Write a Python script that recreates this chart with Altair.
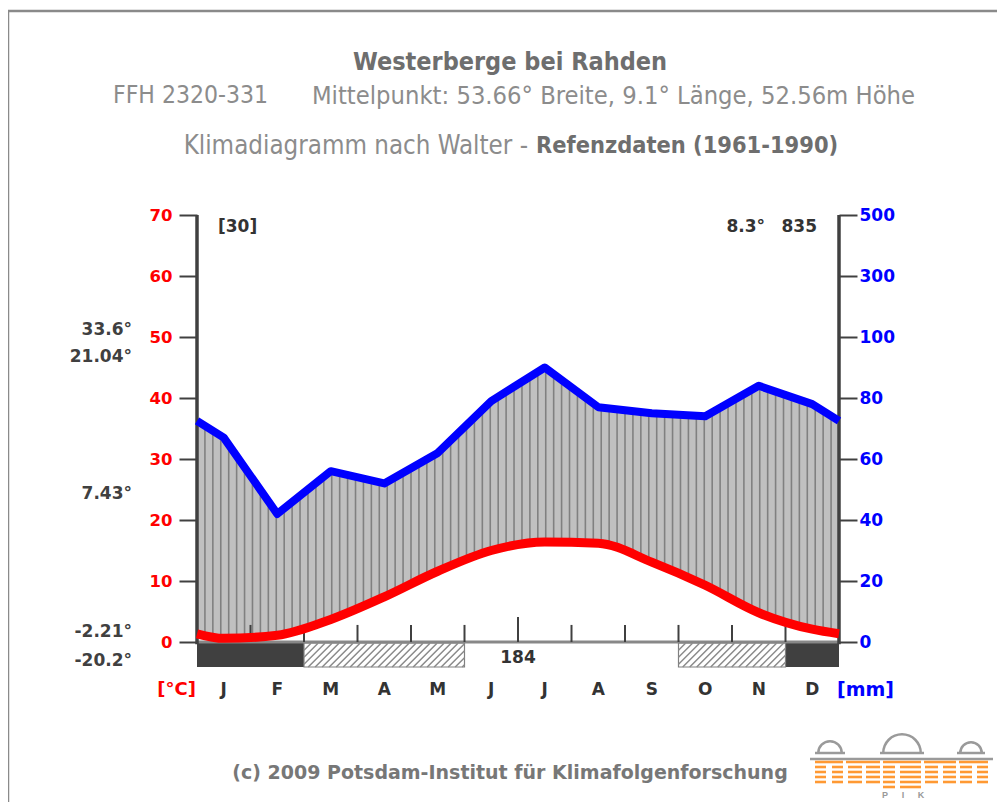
import altair as alt
import pandas as pd
import numpy as np

# ---------------- data ----------------
months = ["J", "F", "M", "A", "M", "J", "J", "A", "S", "O", "N", "D"]
temp_c = [0.6, 1.1, 3.7, 7.4, 11.6, 15.0, 16.4, 16.2, 13.1, 9.3, 4.8, 2.1]
precip_mm = [67, 42, 56, 52, 62, 79, 90, 77, 75, 74, 84, 78]
left_ticks = [0, 10, 20, 30, 40, 50, 60, 70]
right_tick_labels = ["0", "20", "40", "60", "80", "100", "300", "500"]
frost_dark = [(0, 2), (11, 12)]       # month ranges, dark bar
frost_hatch = [(2, 5), (9, 11)]       # month ranges, hatched bar
frost_free_days = "184"
years_label = "[30]"
mean_temp_label = "8.3°"
annual_precip_label = "835"
extreme_labels = ["33.6°", "21.04°", "7.43°", "-2.21°", "-20.2°"]

title = "Westerberge bei Rahden"
sub_id = "FFH 2320-331"
sub_loc = "Mittelpunkt: 53.66° Breite, 9.1° Länge, 52.56m Höhe"
line3_a = "Klimadiagramm nach Walter -"
line3_b = "Refenzdaten (1961-1990)"
footer = "(c) 2009 Potsdam-Institut für Klimafolgenforschung"

# ---------------- layout ----------------
W, H = 642, 453
YMIN, YMAX = -4.26, 70
xs = alt.Scale(domain=[0, 12], nice=False, zero=False)
ys = alt.Scale(domain=[YMIN, YMAX], nice=False, zero=False)

SANS_B = "DejaVu Sans"
COND = "DejaVu Sans Condensed"
ARIAL = "Liberation Sans"


def p_eq(p):
    return p / 2.0 if p <= 100 else 50 + (p - 100) / 20.0


edge_t = (temp_c[0] + temp_c[-1]) / 2
edge_p = (precip_mm[0] + precip_mm[-1]) / 2
cx = [0.0] + [i + 0.5 for i in range(12)] + [12.0]
ct = [edge_t] + temp_c + [edge_t]
cp = [p_eq(edge_p)] + [p_eq(v) for v in precip_mm] + [p_eq(edge_p)]
curve = pd.DataFrame({"x": cx, "t": ct, "p": cp, "zero": 0.0, "top": 50.0})

X = lambda f: alt.X(f, type="quantitative", scale=xs, axis=None)
Y = lambda f: alt.Y(f, type="quantitative", scale=ys, axis=None)

# gray background of humid area + left axis
bg = alt.Chart(pd.DataFrame({"x0": [0], "x1": [12], "y0": [0], "y1": [50]})).mark_rect(
    color="#c0c0c0"
).encode(
    x=X("x0"), x2="x1",
    y=alt.Y("y0:Q", scale=ys, axis=alt.Axis(
        orient="left", values=left_ticks, domain=False, grid=False, title=None,
        tickColor="#404040", tickWidth=2, tickSize=18,
        labelColor="#ff0000", labelFont=SANS_B, labelFontWeight="bold",
        labelFontSize=16.5, labelPadding=7, zindex=1)),
    y2="y1",
)

# vertical hatch lines
n_lines = 81
vl = pd.DataFrame({"x": np.linspace(0, 12, n_lines + 1), "y0": 0.0, "y1": 50.0})
vrules = alt.Chart(vl).mark_rule(color="#808080", strokeWidth=1.6).encode(
    x=X("x"), y=Y("y0"), y2="y1")

mask_top = alt.Chart(curve).mark_area(color="white", opacity=1, interpolate="linear").encode(
    x=X("x"), y=Y("p"), y2="top")
mask_bot = alt.Chart(curve).mark_area(color="white", opacity=1, interpolate="monotone").encode(
    x=X("x"), y=Y("zero"), y2="t")

baseline = alt.Chart(pd.DataFrame({"x0": [0], "x1": [12], "y": [0]})).mark_rule(
    color="#888888", strokeWidth=3).encode(x=X("x0"), x2="x1", y=Y("y"))

tk = pd.DataFrame({"x": list(range(1, 12))})
tk["y0"] = 0.0
tk["y1"] = [4.1 if v == 6 else 2.8 for v in tk["x"]]
mticks = alt.Chart(tk).mark_rule(color="#404040", strokeWidth=2).encode(
    x=X("x"), y=Y("y0"), y2="y1")

BAR_T, BAR_B = -0.2, -4.1
dark = alt.Chart(pd.DataFrame({"a": [a for a, b in frost_dark], "b": [b for a, b in frost_dark],
                               "y0": BAR_T, "y1": BAR_B})).mark_rect(color="#404040").encode(
    x=X("a"), x2="b", y=Y("y0"), y2="y1")
hatch_box = alt.Chart(pd.DataFrame({"a": [a for a, b in frost_hatch], "b": [b for a, b in frost_hatch],
                                    "y0": BAR_T, "y1": BAR_B})).mark_rect(
    fill="white", stroke="#808080", strokeWidth=1.2).encode(
    x=X("a"), x2="b", y=Y("y0"), y2="y1")

# diagonal hatch lines clipped to each hatched bar
px_per_month = W / 12.0
bar_h_px = (BAR_T - BAR_B) * H / (YMAX - YMIN)
dx = bar_h_px / px_per_month
step = 7.0 / px_per_month
segs = []
for a, b in frost_hatch:
    x0 = a - dx
    while x0 < b:
        t0 = max(0.0, (a - x0) / dx)
        t1 = min(1.0, (b - x0) / dx)
        if t1 > t0:
            segs.append({"xa": x0 + t0 * dx, "xb": x0 + t1 * dx,
                         "ya": BAR_B + t0 * (BAR_T - BAR_B), "yb": BAR_B + t1 * (BAR_T - BAR_B)})
        x0 += step
hseg = pd.DataFrame(segs)
hatch_lines = alt.Chart(hseg).mark_rule(color="#8a8a8a", strokeWidth=1.5).encode(
    x=X("xa"), x2="xb", y=Y("ya"), y2="yb")

axl = alt.Chart(pd.DataFrame({"x": [0, 12], "y0": -0.35, "y1": 70})).mark_rule(
    color="#404040", strokeWidth=3.5).encode(x=X("x"), y=Y("y0"), y2="y1")

red = alt.Chart(curve).mark_line(color="#ff0000", strokeWidth=9, interpolate="monotone").encode(
    x=X("x"), y=Y("t"))
blue = alt.Chart(curve).mark_line(color="#0000ff", strokeWidth=8, interpolate="linear",
                                  strokeJoin="round").encode(
    x=X("x"), y=Y("p"))

label_expr = "[" + ",".join("'%s'" % s for s in right_tick_labels) + "][round(datum.value/10)]"
raxis = alt.Chart(pd.DataFrame({"v": left_ticks})).mark_point(opacity=0).encode(
    y=alt.Y("v:Q", scale=ys, axis=alt.Axis(
        orient="right", values=left_ticks, domain=False, grid=False, title=None,
        labelExpr=label_expr,
        tickColor="#404040", tickWidth=2, tickSize=18,
        labelColor="#0000ff", labelFont=SANS_B, labelFontWeight="bold",
        labelFontSize=17, labelPadding=2, zindex=1)))

# month labels
mdf = pd.DataFrame({"x": [i + 0.5 for i in range(12)], "m": months})
mlab = alt.Chart(mdf).mark_text(font=SANS_B, fontWeight="bold", fontSize=17, color="#333333").encode(
    x=X("x"), y=alt.value(475), text="m")

# free text (pixel positions relative to plot origin)
texts = []
def T(txt, x, y, size, color, weight="bold", align="center", font=SANS_B):
    texts.append(dict(txt=txt, px=x, py=y, size=size, color=color, weight=weight,
                      align=align, font=font))

T(title, 313, -153, 25, "#6e6e6e", "bold", "center", COND)
T(sub_id, -84, -119, 24.5, "#8c8c8c", "normal", "left", COND)
T(sub_loc, 718, -119, 25.3, "#8c8c8c", "normal", "right", COND)
T(line3_a, 331, -69, 25.7, "#8c8c8c", "normal", "right", COND)
T(line3_b, 339, -69, 23.4, "#6e6e6e", "bold", "left", COND)
for lab, yy in zip(extreme_labels, [115, 142, 279, 417, 446]):
    T(lab, -65, yy, 17, "#404040", "bold", "right")
T(years_label, 21, 12, 17, "#333333", "bold", "left")
T(mean_temp_label, 568, 12, 17, "#333333", "bold", "right")
T(annual_precip_label, 620, 12, 17, "#333333", "bold", "right")
T("[°C]", -1, 475, 18, "#ff0000", "bold", "right")
T("[mm]", 640, 475, 19, "#0000ff", "bold", "left")
T(footer, 313, 558, 19, "#777777", "bold", "center", SANS_B)
for ch, xx in zip(["P", "I", "K"], [688, 706, 724]):
    T(ch, xx, 580, 9, "#999999", "bold", "center", ARIAL)

text_layers = []
for d in texts:
    text_layers.append(
        alt.Chart(pd.DataFrame([d])).mark_text(
            font=d["font"], fontSize=d["size"], fontWeight=d["weight"], color=d["color"],
            align=d["align"], baseline="middle").encode(
            x=alt.X("px:Q", scale=None), y=alt.Y("py:Q", scale=None), text="txt:N"))

t184 = alt.Chart(pd.DataFrame({"x": [6.0], "t": [frost_free_days]})).mark_text(
    font=SANS_B, fontWeight="bold", fontSize=17, color="#333333").encode(
    x=X("x"), y=alt.value(443), text="t")

# frame
frame = alt.Chart(pd.DataFrame({"a": [-189, -189], "b": [-189, 800], "c": [-204, -204], "d": [600, -204]})).mark_rule(
    color="#8a8a8a", strokeWidth=2.5).encode(
    x=alt.X("a:Q", scale=None), x2="b", y=alt.Y("c:Q", scale=None), y2="d")

# PIK logo (pixel positions relative to plot origin)
OX, OY = -197, -215
logo_gray = pd.DataFrame({
    "a": [810, 815, 880, 957], "b": [993, 845, 924, 985],
    "c": [759, 753, 753, 753], "d": [759, 753, 753, 753]})
logo_gray[["a", "b"]] += OX
logo_gray[["c", "d"]] += OY
logo_lines = alt.Chart(logo_gray).mark_rule(color="#9a9a9a", strokeWidth=2.5).encode(
    x=alt.X("a:Q", scale=None), x2="b", y=alt.Y("c:Q", scale=None), y2="d")
arcs = pd.DataFrame({"cx": [830 + OX, 902 + OX, 971 + OX], "cy": [753 + OY] * 3, "r": [13, 20, 12]})
arcs["r2"] = arcs["r"] - 2.5
logo_arcs = alt.Chart(arcs).mark_arc(color="#9a9a9a", theta=4.7124, theta2=7.854).encode(
    x=alt.X("cx:Q", scale=None), y=alt.Y("cy:Q", scale=None),
    radius=alt.Radius("r:Q", scale=None), radius2="r2")
dash_cols = [(815, 826), (832, 843), (848, 862), (866, 880), (883, 895), (900, 921),
             (925, 938), (943, 956), (960, 972), (977, 988)]
osegs = []
for a, b in [(815, 843), (846, 880), (883, 921), (924, 956), (959, 988)]:
    osegs.append((a, b, 762))
for yy in [767, 772, 777, 782]:
    for a, b in dash_cols:
        osegs.append((a, b, yy))
for yy in [787]:
    for a, b in [(883, 895), (900, 921)]:
        osegs.append((a, b, yy))
odf = pd.DataFrame(osegs, columns=["a", "b", "c"])
odf[["a", "b"]] += OX
odf["c"] += OY
logo_orange = alt.Chart(odf).mark_rule(color="#ff9933", strokeWidth=2.6).encode(
    x=alt.X("a:Q", scale=None), x2="b", y=alt.Y("c:Q", scale=None))

chart = alt.layer(
    bg, vrules, mask_top, mask_bot, baseline, mticks, dark, hatch_box, hatch_lines,
    axl, red, blue, raxis, mlab, t184, frame, logo_lines, logo_arcs, logo_orange, *text_layers
).resolve_scale(y="independent").properties(
    width=W, height=H, padding={"left": 189, "top": 207, "right": 158, "bottom": 134},
    autosize=alt.AutoSizeParams(type="none"), background="white"
).configure_view(stroke=None)

chart.save("out.html", embed_options={"renderer": "svg", "actions": False})
